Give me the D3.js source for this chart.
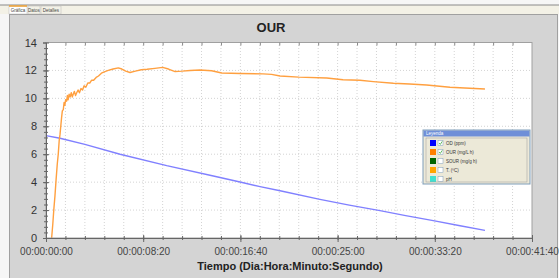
<!DOCTYPE html>
<html>
<head>
<meta charset="utf-8">
<script src="https://cdn.jsdelivr.net/npm/d3@7"></script>
<style>
  body { margin: 0; background: #f4f4f4; }
  svg { display: block; font-family: Arial, "Liberation Sans", sans-serif; }
</style>
</head>
<body>
<script>
    // tiempo en segundos
    var ourTime = [29, 35, 40, 46, 52, 58, 63, 68, 72, 76, 80, 84, 89, 93, 97, 101, 106, 110, 114, 119, 124, 130, 135, 140, 146, 152, 158, 165, 172, 180, 188, 196, 205, 215, 225, 235, 245, 258, 270, 285, 300, 320, 345, 372, 390, 410, 432, 460, 490, 520, 560, 600, 630, 664, 700, 741, 792, 852, 904, 1000, 1116, 1160, 1204, 1300, 1444, 1528, 1615, 1684, 1787, 1870, 1958, 2078, 2180, 2258];
    var ourValues = [0, 1, 2, 3, 4.2, 5.3, 6, 7, 7.4, 8, 8.6, 9.1, 9.2, 9.7, 9.5, 9.9, 9.8, 10.2, 9.9, 10.3, 10.1, 10.4, 10.1, 10.3, 10.5, 10.2, 10.4, 10.6, 10.4, 10.7, 10.6, 10.9, 10.8, 11.1, 11.1, 11.3, 11.3, 11.5, 11.6, 11.8, 11.9, 12.0, 12.1, 12.18, 12.1, 11.95, 11.85, 11.95, 12.05, 12.08, 12.15, 12.22, 12.1, 11.92, 11.95, 12.0, 12.03, 11.98, 11.82, 11.78, 11.75, 11.72, 11.6, 11.52, 11.46, 11.33, 11.3, 11.2, 11.08, 11.03, 10.96, 10.8, 10.72, 10.67];
    var odTime = [0, 72, 200, 381, 621, 861, 998, 1101, 1204, 1409, 1560, 1718, 1850, 1992, 2130, 2258];
    var odValues = [7.33, 7.14, 6.7, 6.0, 5.18, 4.44, 4.01, 3.68, 3.38, 2.77, 2.35, 1.96, 1.6, 1.24, 0.88, 0.55];
    var xTicks = [0, 500, 1000, 1500, 2000, 2500];
    var yTicks = [0, 2, 4, 6, 8, 10, 12, 14];
    var tabs = ["Gráfica", "Datos", "Detalles"];
    var legendNames = ["OD (ppm)", "OUR (mg/L h)", "SOUR (mg/g h)", "T. (ºC)", "pH"];
    var legendColors = ["#0000ff", "#ff7f00", "#006400", "#ffa500", "#40e0d0"];
    var legendChecked = [true, true, false, false, false];

    var W = 559, H = 278;
    var svg = d3.select("body").append("svg").attr("width", W).attr("height", H);

    // marco de la ventana
    svg.append("rect").attr("x", 0).attr("y", 0).attr("width", W).attr("height", H).attr("fill", "#f6f6f6");
    svg.append("rect").attr("x", 0).attr("y", 5).attr("width", W).attr("height", 9).attr("fill", "#f3f1e6");
    svg.append("line").attr("x1", 0).attr("x2", W).attr("y1", 5).attr("y2", 5).attr("stroke", "#8a8a8a");
    var tabX = [9, 28, 41], tabW = [18, 12, 20];
    tabs.forEach(function (t, i) {
        svg.append("rect").attr("x", tabX[i]).attr("y", 6).attr("width", tabW[i]).attr("height", 8)
            .attr("fill", i == 0 ? "#ffffff" : "#f3f1e6").attr("stroke", "#b9b9b9").attr("stroke-width", 0.5);
        svg.append("text").attr("x", tabX[i] + tabW[i] / 2).attr("y", 12).attr("text-anchor", "middle")
            .attr("font-size", "4.5px").attr("fill", "#444").text(t);
    });
    svg.append("line").attr("x1", 9).attr("x2", 27).attr("y1", 6).attr("y2", 6).attr("stroke", "#f0a030").attr("stroke-width", 1.5);

    svg.append("rect").attr("x", 9.5).attr("y", 14.5).attr("width", 548).attr("height", 270)
        .attr("fill", "#d4d4d4").attr("stroke", "#a0a0a0");

    var x0 = 46, x1 = 532, y0 = 238, y1 = 42.5;
    var x = d3.scaleLinear().domain([0, 2500]).range([x0, x1]);
    var y = d3.scaleLinear().domain([0, 14]).range([y0, y1]);

    svg.append("rect").attr("x", x0).attr("y", y1).attr("width", x1 - x0).attr("height", y0 - y1).attr("fill", "#ffffff");

    // rejilla punteada
    var g = svg.append("g");
    g.selectAll(".vg").data(d3.range(100, 2500, 100)).enter().append("line")
        .attr("x1", function (d) { return x(d); }).attr("x2", function (d) { return x(d); })
        .attr("y1", y0).attr("y2", y1)
        .attr("stroke", "#c8c8c8").attr("stroke-width", 0.8).attr("stroke-dasharray", "1,2");
    g.selectAll(".hg").data(yTicks.slice(1, -1)).enter().append("line")
        .attr("x1", x0).attr("x2", x1)
        .attr("y1", function (d) { return y(d); }).attr("y2", function (d) { return y(d); })
        .attr("stroke", "#c8c8c8").attr("stroke-width", 0.8).attr("stroke-dasharray", "1,2");

    // series
    var odData = odTime.map(function (t, i) { return [t, odValues[i]]; });
    var ourData = ourTime.map(function (t, i) { return [t, ourValues[i]]; });
    var line = d3.line().x(function (d) { return x(d[0]); }).y(function (d) { return y(d[1]); });
    svg.append("path").datum(odData).attr("d", line).attr("fill", "none")
        .attr("stroke", "#8080ff").attr("stroke-width", 1.4);
    svg.append("path").datum(ourData).attr("d", line).attr("fill", "none")
        .attr("stroke", "#ffa040").attr("stroke-width", 1.4).attr("stroke-linejoin", "round");

    svg.append("rect").attr("x", x0).attr("y", y1).attr("width", x1 - x0).attr("height", y0 - y1)
        .attr("fill", "none").attr("stroke", "#a0a0a0");

    // ejes
    function fmt(s) {
        var p = function (n) { return (n < 10 ? "0" : "") + n; };
        return "00:" + p(Math.floor(s / 3600)) + ":" + p(Math.floor(s / 60) % 60) + ":" + p(s % 60);
    }
    var xAxis = d3.axisBottom(x).tickValues(xTicks).tickFormat(fmt).tickSize(4).tickPadding(6);
    var gx = svg.append("g").attr("transform", "translate(0," + y0 + ")").call(xAxis);
    gx.select(".domain").attr("stroke", "#666");
    gx.selectAll(".tick line").attr("stroke", "#666").attr("y1", -3);
    gx.selectAll("text").attr("font-size", "10px").attr("fill", "#444").attr("font-family", "Arial");
    var gxm = svg.append("g").attr("transform", "translate(0," + y0 + ")")
        .call(d3.axisBottom(x).tickValues(d3.range(100, 2500, 100)).tickSize(2).tickFormat(""));
    gxm.select(".domain").remove();
    gxm.selectAll("line").attr("stroke", "#666").attr("y1", -2);
    var gxt = svg.append("g").attr("transform", "translate(0," + y1 + ")")
        .call(d3.axisTop(x).tickValues(d3.range(100, 2500, 100)).tickSize(-3).tickFormat(""));
    gxt.select(".domain").remove();
    gxt.selectAll("line").attr("stroke", "#888");

    var yAxis = d3.axisLeft(y).tickValues(yTicks).tickSize(3).tickPadding(6);
    var gy = svg.append("g").attr("transform", "translate(" + x0 + ",0)").call(yAxis);
    gy.select(".domain").attr("stroke", "#666");
    gy.selectAll(".tick line").attr("stroke", "#666").attr("x1", 3);
    gy.selectAll("text").attr("font-size", "11px").attr("fill", "#333").attr("font-family", "Arial");
    var gym = svg.append("g").attr("transform", "translate(" + x0 + ",0)")
        .call(d3.axisLeft(y).tickValues(d3.range(0.4, 14, 0.4)).tickSize(2).tickFormat(""));
    gym.select(".domain").remove();
    gym.selectAll("line").attr("stroke", "#666").attr("x1", 2);

    svg.append("text").attr("x", 271).attr("y", 32).attr("text-anchor", "middle")
        .attr("font-size", "13px").attr("font-weight", "bold").attr("fill", "#222").text("OUR");
    svg.append("text").attr("x", 290).attr("y", 270).attr("text-anchor", "middle")
        .attr("font-size", "11px").attr("font-weight", "bold").attr("fill", "#222")
        .text("Tiempo (Dia:Hora:Minuto:Segundo)");

    // leyenda
    var lg = svg.append("g").attr("transform", "translate(423,130)");
    lg.append("rect").attr("x", 0).attr("y", 0).attr("width", 107).attr("height", 54)
        .attr("fill", "#ece9d8").attr("stroke", "#7f9db9");
    lg.append("rect").attr("x", 0.5).attr("y", 0.5).attr("width", 106).attr("height", 6).attr("fill", "#6f8fd8");
    lg.append("text").attr("x", 3).attr("y", 5.2).attr("font-size", "4.5px").attr("fill", "#fff").text("Leyenda");
    var items = lg.selectAll(".it").data(legendNames).enter().append("g")
        .attr("transform", function (d, i) { return "translate(0," + (10 + i * 9) + ")"; });
    lg.append("rect").attr("x", 3).attr("y", 8).attr("width", 101).attr("height", 44)
        .attr("fill", "none").attr("stroke", "#9a9a9a").attr("stroke-width", 0.5);
    items.append("rect").attr("x", 7).attr("y", 0).attr("width", 6).attr("height", 6)
        .attr("fill", function (d, i) { return legendColors[i]; });
    items.append("rect").attr("x", 15).attr("y", 0.5).attr("width", 5).attr("height", 5)
        .attr("fill", "#fff").attr("stroke", "#7f9db9").attr("stroke-width", 0.5);
    items.filter(function (d, i) { return legendChecked[i]; }).append("path")
        .attr("d", "M16,3 L17.3,4.4 L19.2,1.4").attr("fill", "none").attr("stroke", "#21a121").attr("stroke-width", 0.7);
    items.append("text").attr("x", 23).attr("y", 4.8).attr("font-size", "4.5px").attr("fill", "#333")
        .text(function (d) { return d; });
</script>
</body>
</html>
